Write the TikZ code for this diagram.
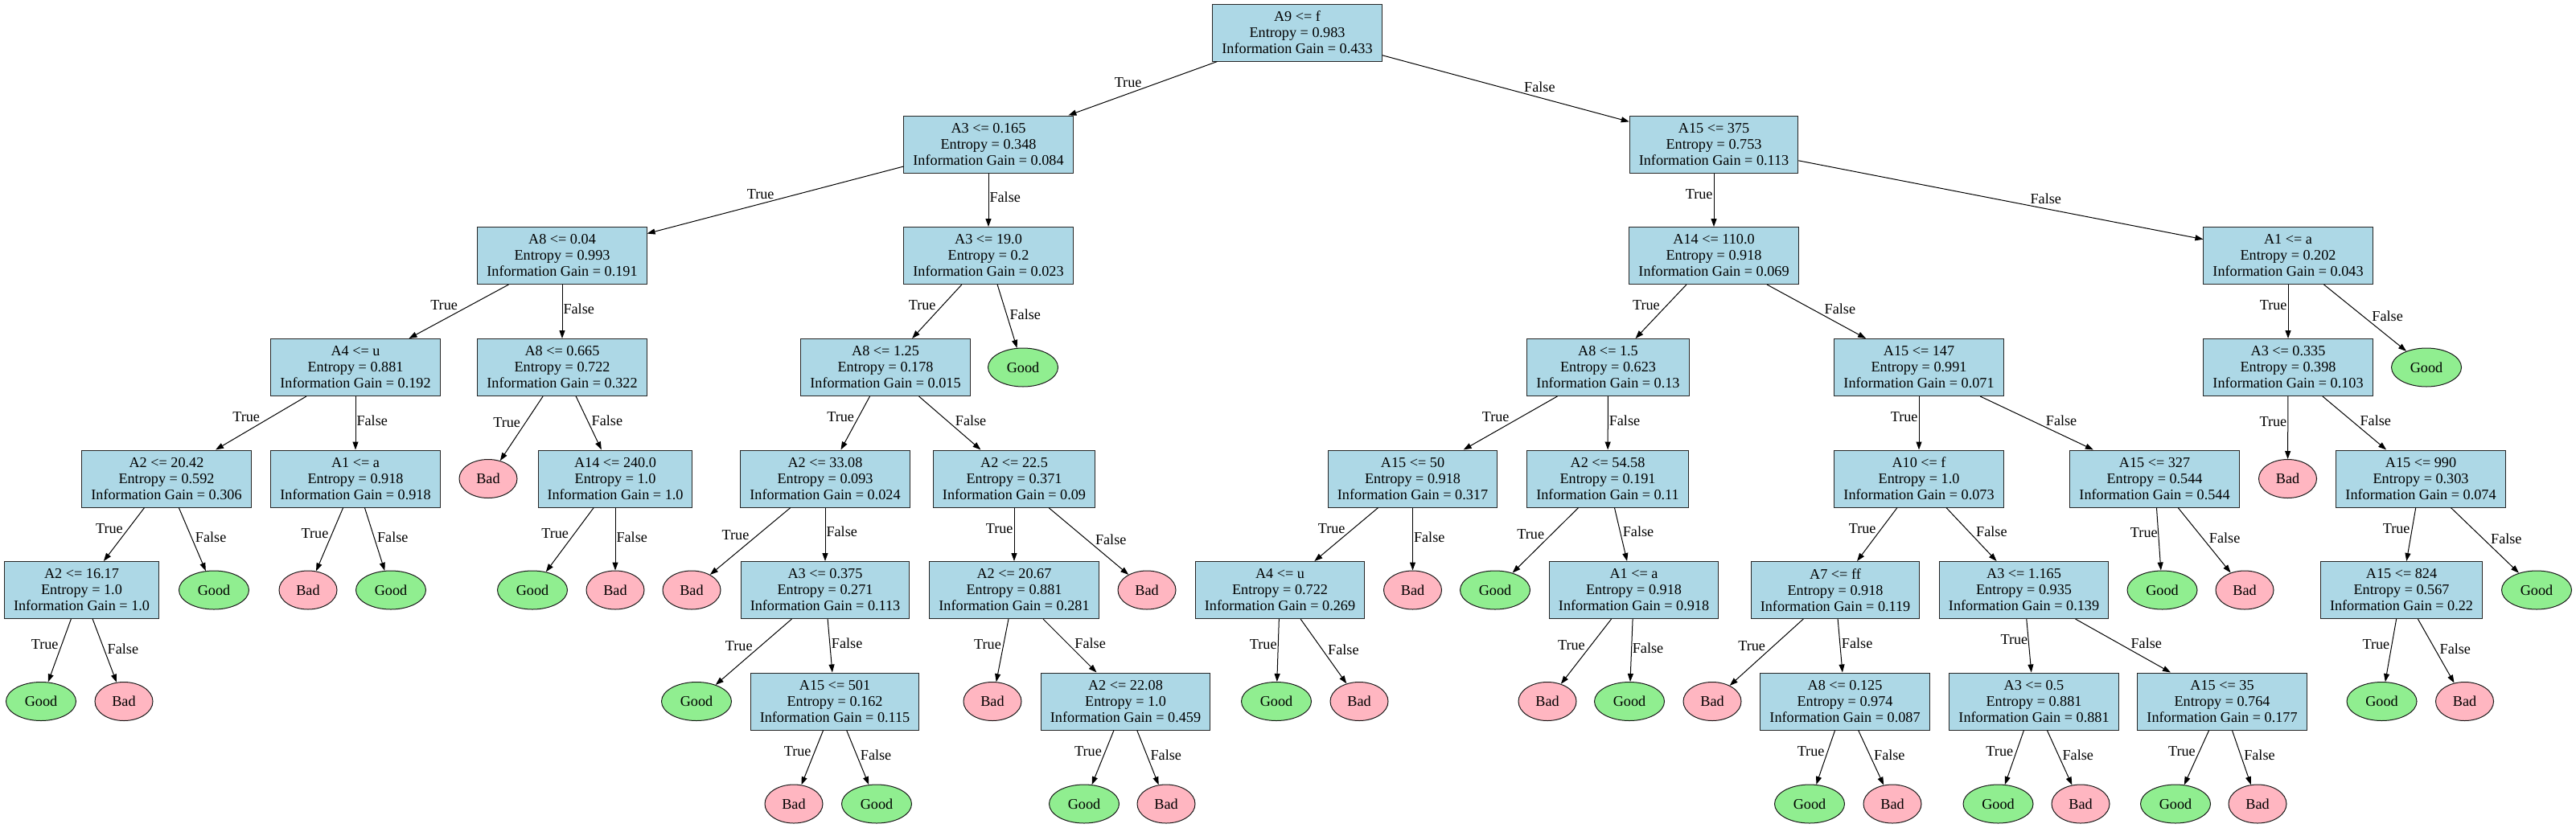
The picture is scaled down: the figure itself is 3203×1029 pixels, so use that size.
\documentclass[tikz,border=0pt]{standalone}
\usepackage{fontspec}
\setmainfont{Liberation Serif}
\usetikzlibrary{shapes.geometric, arrows.meta}
\definecolor{splitblue}{HTML}{ADD8E6}
\definecolor{goodgreen}{HTML}{90EE90}
\definecolor{badpink}{HTML}{FFB6C1}
\newcommand{\infotext}[3]{#1\\Entropy = #2\\Information Gain = #3}

\begin{document}
\begin{tikzpicture}[x=1pt, y=-1pt,
  every node/.style={font=\fontsize{18.2}{20}\selectfont},
  split/.style={draw=black!85, line width=1pt, fill=splitblue, rectangle, align=center,
    minimum height=71pt, inner xsep=11.5pt, inner ysep=2pt},
  leaf/.style={draw=black!90, line width=1pt, ellipse, minimum height=48pt, inner sep=0pt},
  good/.style={leaf, fill=goodgreen, minimum width=87pt},
  bad/.style={leaf, fill=badpink, minimum width=72pt},
  edge/.style={line width=1pt, -{Triangle[length=10pt, width=7pt]}},
  truelabel/.style={pos=0.5, anchor=south east, inner sep=1pt},
  falselabel/.style={pos=0.57, anchor=south west, inner sep=1pt}]
  \useasboundingbox (0,0) rectangle (3203,1029);

  % rank 0 and 1
  \node[split] (root) at (1613, 40.5) {\infotext{A9 <= f}{0.983}{0.433}};
  \node[split] (n1) at (1229, 179.5) {\infotext{A3 <= 0.165}{0.348}{0.084}};
  \node[split] (n2) at (2131, 179.5) {\infotext{A15 <= 375}{0.753}{0.113}};

  % rank 2
  \node[split] (n3) at (699, 318) {\infotext{A8 <= 0.04}{0.993}{0.191}};
  \node[split] (n4) at (1229, 318) {\infotext{A3 <= 19.0}{0.2}{0.023}};
  \node[split] (n5) at (2131, 318) {\infotext{A14 <= 110.0}{0.918}{0.069}};
  \node[split] (n6) at (2845, 318) {\infotext{A1 <= a}{0.202}{0.043}};

  % rank 3
  \node[split] (n7) at (442, 457) {\infotext{A4 <= u}{0.881}{0.192}};
  \node[split] (n8) at (699, 457) {\infotext{A8 <= 0.665}{0.722}{0.322}};
  \node[split] (n9) at (1101, 457) {\infotext{A8 <= 1.25}{0.178}{0.015}};
  \node[good] (g1) at (1272, 457) {Good};
  \node[split] (n10) at (1999.5, 457) {\infotext{A8 <= 1.5}{0.623}{0.13}};
  \node[split] (n11) at (2386, 457) {\infotext{A15 <= 147}{0.991}{0.071}};
  \node[split] (n12) at (2845, 457) {\infotext{A3 <= 0.335}{0.398}{0.103}};
  \node[good] (g2) at (3017, 457) {Good};

  % rank 4
  \node[split] (n13) at (207, 595.5) {\infotext{A2 <= 20.42}{0.592}{0.306}};
  \node[split] (n14) at (442, 595.5) {\infotext{A1 <= a}{0.918}{0.918}};
  \node[bad] (b1) at (607, 595.5) {Bad};
  \node[split] (n15) at (765, 595.5) {\infotext{A14 <= 240.0}{1.0}{1.0}};
  \node[split] (n16) at (1026, 595.5) {\infotext{A2 <= 33.08}{0.093}{0.024}};
  \node[split] (n17) at (1261, 595.5) {\infotext{A2 <= 22.5}{0.371}{0.09}};
  \node[split] (n18) at (1756.5, 595.5) {\infotext{A15 <= 50}{0.918}{0.317}};
  \node[split] (n19) at (1999, 595.5) {\infotext{A2 <= 54.58}{0.191}{0.11}};
  \node[split] (n20) at (2386, 595.5) {\infotext{A10 <= f}{1.0}{0.073}};
  \node[split] (n21) at (2679, 595.5) {\infotext{A15 <= 327}{0.544}{0.544}};
  \node[bad] (b2) at (2844.5, 595.5) {Bad};
  \node[split] (n22) at (3010, 595.5) {\infotext{A15 <= 990}{0.303}{0.074}};

  % rank 5
  \node[split] (n23) at (101.5, 734) {\infotext{A2 <= 16.17}{1.0}{1.0}};
  \node[good] (g3) at (266, 734) {Good};
  \node[bad] (b3) at (383, 734) {Bad};
  \node[good] (g4) at (486, 734) {Good};
  \node[good] (g5) at (662, 734) {Good};
  \node[bad] (b4) at (765, 734) {Bad};
  \node[bad] (b5) at (860, 734) {Bad};
  \node[split] (n24) at (1026, 734) {\infotext{A3 <= 0.375}{0.271}{0.113}};
  \node[split] (n25) at (1261, 734) {\infotext{A2 <= 20.67}{0.881}{0.281}};
  \node[bad] (b6) at (1426, 734) {Bad};
  \node[split] (n26) at (1591.5, 734) {\infotext{A4 <= u}{0.722}{0.269}};
  \node[bad] (b7) at (1756.5, 734) {Bad};
  \node[good] (g6) at (1859, 734) {Good};
  \node[split] (n27) at (2031.5, 734) {\infotext{A1 <= a}{0.918}{0.918}};
  \node[split] (n28) at (2282, 734) {\infotext{A7 <= ff}{0.918}{0.119}};
  \node[split] (n29) at (2516.5, 734) {\infotext{A3 <= 1.165}{0.935}{0.139}};
  \node[good] (g7) at (2688.5, 734) {Good};
  \node[bad] (b8) at (2791, 734) {Bad};
  \node[split] (n30) at (2986, 734) {\infotext{A15 <= 824}{0.567}{0.22}};
  \node[good] (g8) at (3154, 734) {Good};

  % rank 6
  \node[good] (g9) at (51, 872.5) {Good};
  \node[bad] (b9) at (154, 872.5) {Bad};
  \node[good] (g10) at (866, 872.5) {Good};
  \node[split] (n31) at (1038, 872.5) {\infotext{A15 <= 501}{0.162}{0.115}};
  \node[bad] (b10) at (1234, 872.5) {Bad};
  \node[split] (n32) at (1399.5, 872.5) {\infotext{A2 <= 22.08}{1.0}{0.459}};
  \node[good] (g11) at (1587, 872.5) {Good};
  \node[bad] (b11) at (1690, 872.5) {Bad};
  \node[bad] (b12) at (1924, 872.5) {Bad};
  \node[good] (g12) at (2026, 872.5) {Good};
  \node[bad] (b13) at (2129, 872.5) {Bad};
  \node[split] (n33) at (2294, 872.5) {\infotext{A8 <= 0.125}{0.974}{0.087}};
  \node[split] (n34) at (2529, 872.5) {\infotext{A3 <= 0.5}{0.881}{0.881}};
  \node[split] (n35) at (2763, 872.5) {\infotext{A15 <= 35}{0.764}{0.177}};
  \node[good] (g13) at (2961.5, 872.5) {Good};
  \node[bad] (b14) at (3064.5, 872.5) {Bad};

  % rank 7
  \node[bad] (b15) at (987, 1000) {Bad};
  \node[good] (g14) at (1090, 1000) {Good};
  \node[good] (g15) at (1348, 1000) {Good};
  \node[bad] (b16) at (1450, 1000) {Bad};
  \node[good] (g16) at (2250, 1000) {Good};
  \node[bad] (b17) at (2353, 1000) {Bad};
  \node[good] (g17) at (2484.5, 1000) {Good};
  \node[bad] (b18) at (2587, 1000) {Bad};
  \node[good] (g18) at (2705, 1000) {Good};
  \node[bad] (b19) at (2807, 1000) {Bad};

  % branches
  \foreach \p/\c in {root/n1, n1/n3, n2/n5, n3/n7, n4/n9, n5/n10, n6/n12, n7/n13, n8/b1,
      n9/n16, n10/n18, n11/n20, n12/b2, n13/n23, n14/b3, n15/g5, n16/b5, n17/n25, n18/n26,
      n19/g6, n20/n28, n21/g7, n22/n30, n23/g9, n24/g10, n25/b10, n26/g11, n27/b12,
      n28/b13, n29/n34, n30/g13, n31/b15, n32/g15, n33/g16, n34/g17, n35/g18}
    \draw[edge] (\p) -- node[truelabel] {True} (\c);
  \foreach \p/\c in {root/n2, n1/n4, n2/n6, n3/n8, n4/g1, n5/n11, n6/g2, n7/n14, n8/n15,
      n9/n17, n10/n19, n11/n21, n12/n22, n13/g3, n14/g4, n15/b4, n16/n24, n17/b6, n18/b7,
      n19/n27, n20/n29, n21/b8, n22/g8, n23/b9, n24/n31, n25/n32, n26/b11, n27/g12,
      n28/n33, n29/n35, n30/b14, n31/g14, n32/b16, n33/b17, n34/b18, n35/b19}
    \draw[edge] (\p) -- node[falselabel] {False} (\c);
\end{tikzpicture}
\end{document}
